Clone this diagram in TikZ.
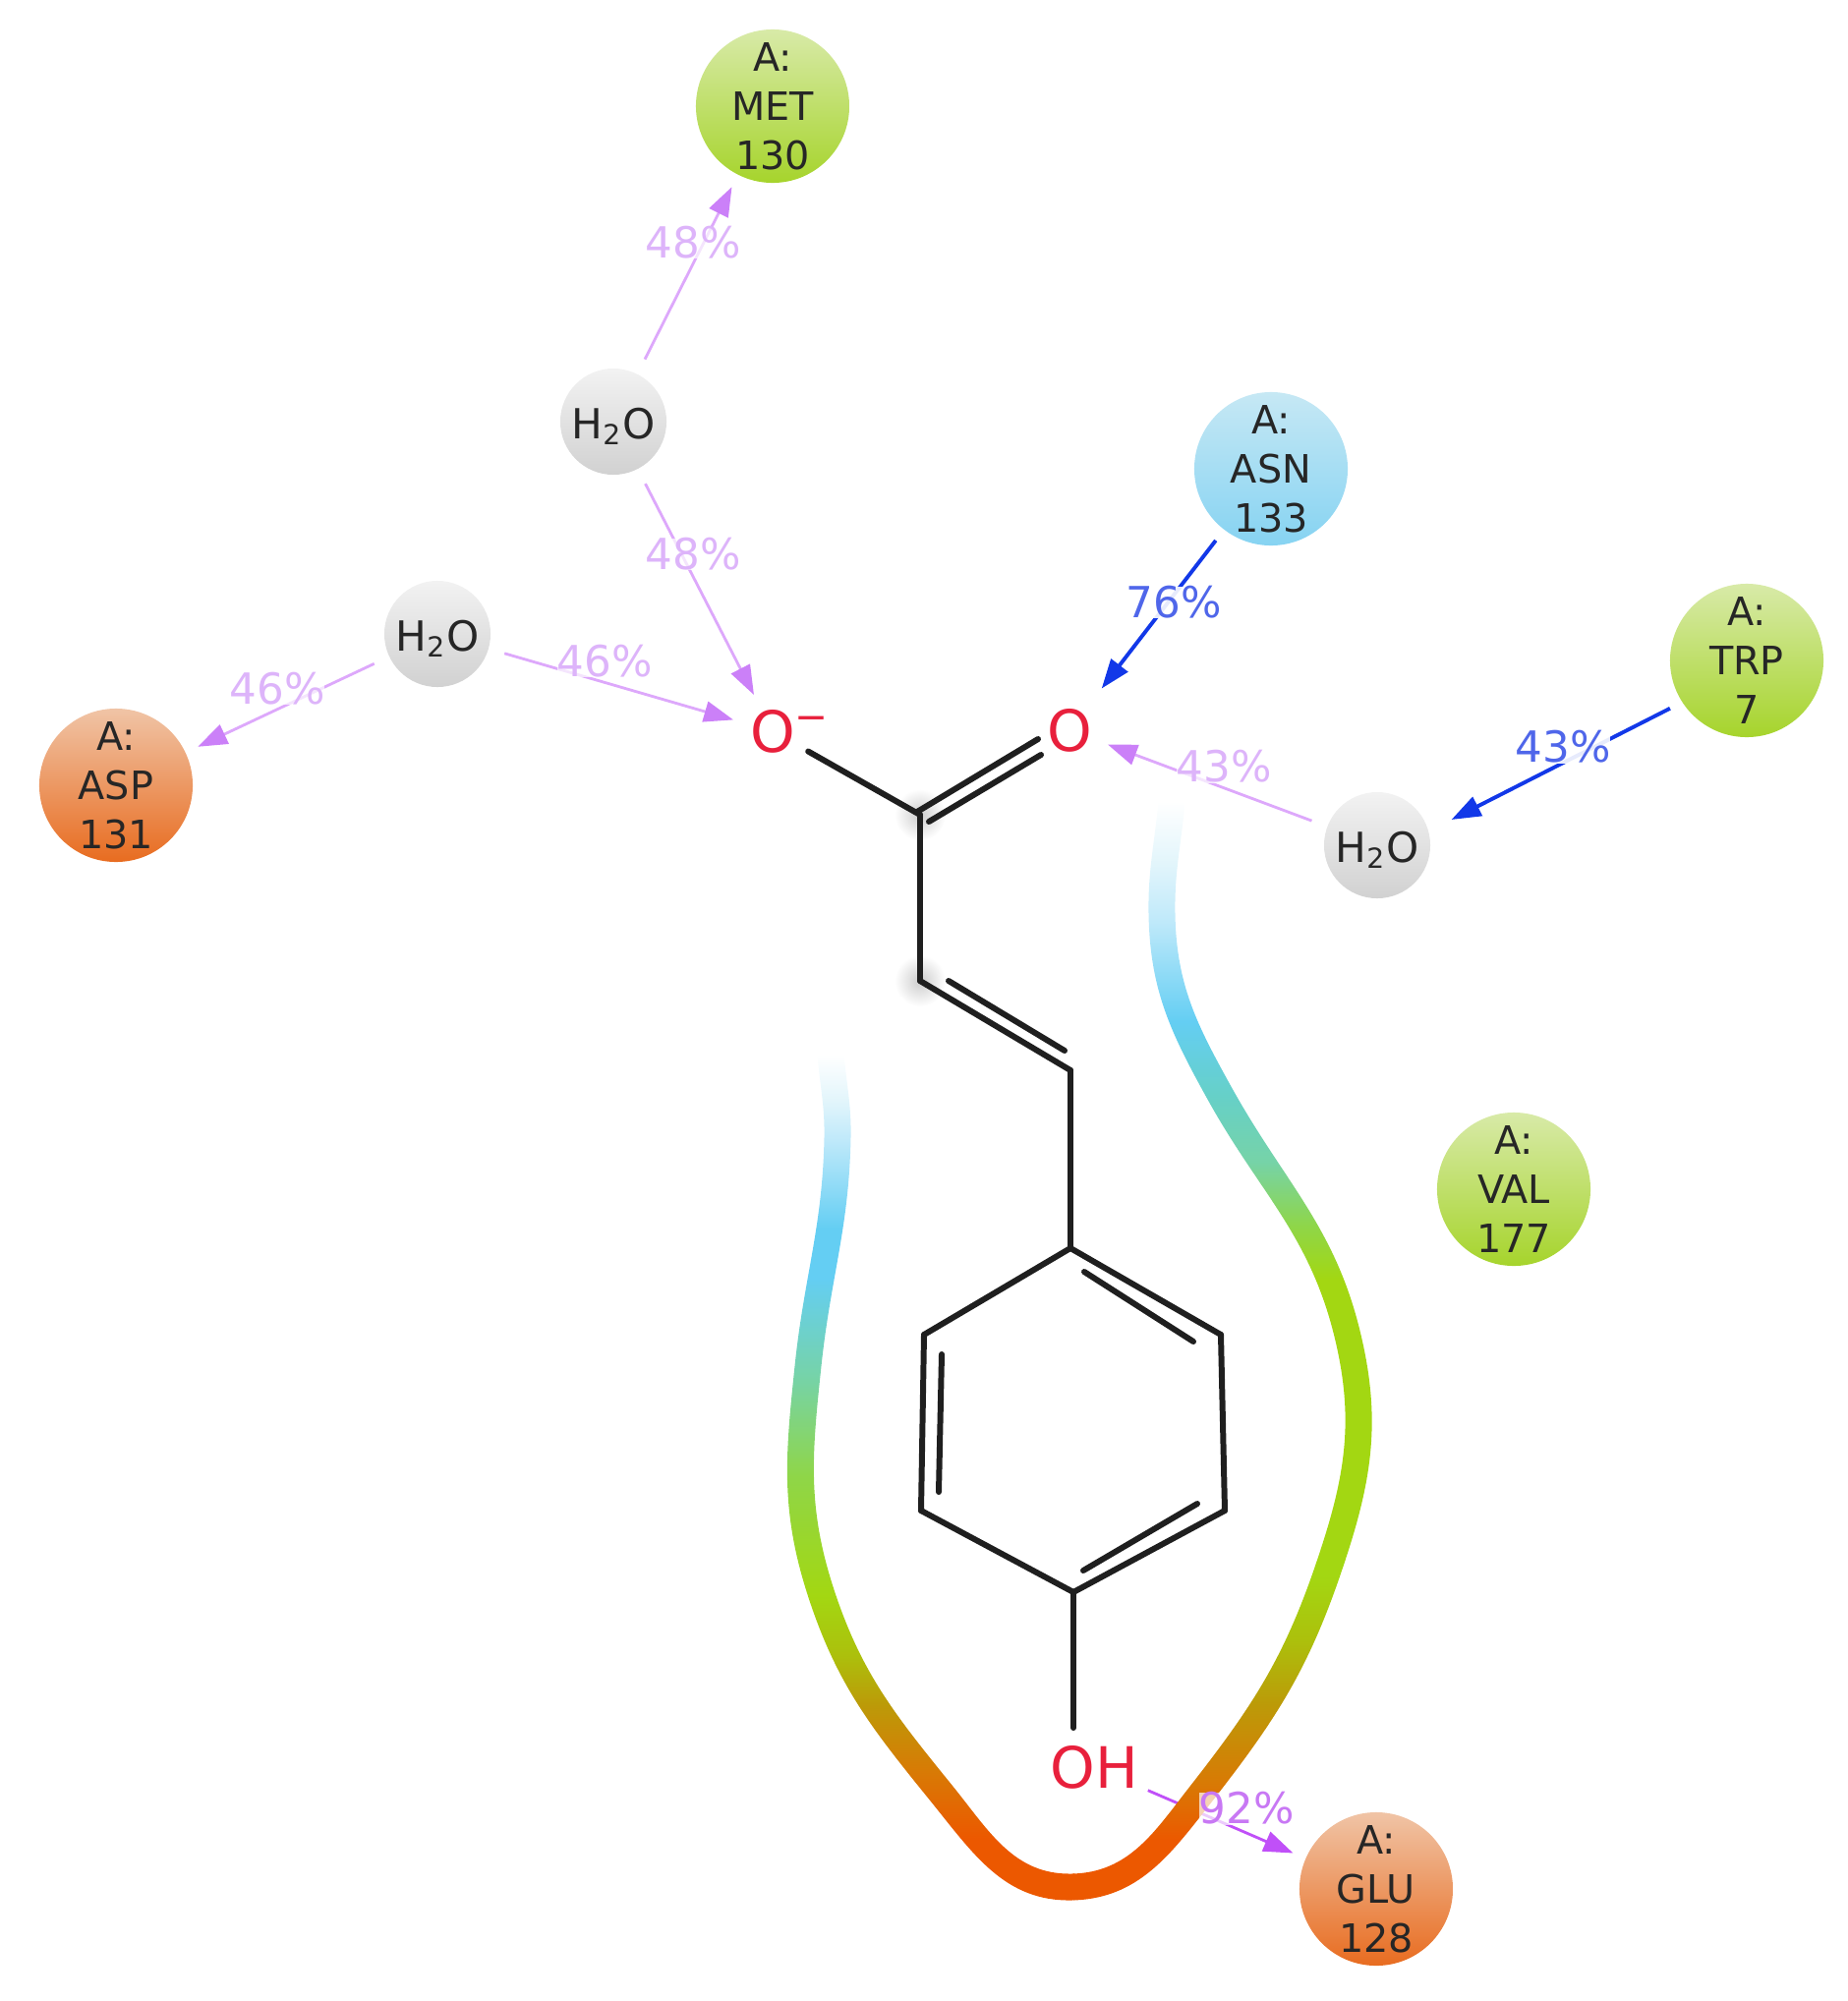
\documentclass[tikz,border=0pt]{standalone}
\usepackage{fontspec}
\setmainfont{DejaVu Sans}
\usetikzlibrary{arrows.meta}

\definecolor{ribwhite}{HTML}{FFFFFF}
\definecolor{ribfaint}{HTML}{E2F5FB}
\definecolor{ribpale}{HTML}{BFE9FA}
\definecolor{ribblue}{HTML}{64CEF3}
\definecolor{ribcyan}{HTML}{66D0C8}
\definecolor{ribteal}{HTML}{76D3A8}
\definecolor{riblime}{HTML}{8FD648}
\definecolor{ribgreen}{HTML}{A3D712}
\definecolor{ribyel}{HTML}{ACC00C}
\definecolor{ribolive}{HTML}{BC9A08}
\definecolor{ribmid}{HTML}{D87A05}
\definecolor{riborange}{HTML}{EC5800}
\definecolor{watertip}{HTML}{CB80F8}
\definecolor{waterline}{HTML}{DDA8FB}
\definecolor{watertext}{HTML}{DDB4FA}
\definecolor{bluetip}{HTML}{1238E8}
\definecolor{bluetext}{HTML}{4F66EA}
\definecolor{sidetip}{HTML}{C050F8}
\definecolor{sidetext}{HTML}{C878F4}
\definecolor{atomred}{HTML}{E8203C}
\definecolor{hydrotop}{HTML}{D8EAA8}
\definecolor{hydrobot}{HTML}{A6D42C}
\definecolor{polartop}{HTML}{C6E8F4}
\definecolor{polarbot}{HTML}{86D3F2}
\definecolor{chargetop}{HTML}{F0C4A6}
\definecolor{chargebot}{HTML}{E86C20}

\pgfdeclareverticalshading{ribbonleft}{100bp}{color(0bp)=(riborange); color(28.8bp)=(riborange); color(32.7bp)=(ribmid); color(36.6bp)=(ribolive); color(39.5bp)=(ribyel); color(43bp)=(ribgreen); color(50bp)=(riblime); color(55.8bp)=(ribteal); color(61.6bp)=(ribblue); color(64.5bp)=(ribblue); color(69.7bp)=(ribpale); color(72bp)=(ribfaint); color(74.7bp)=(ribwhite); color(100bp)=(ribwhite)}
\pgfdeclareverticalshading{ribbonright}{100bp}{color(0bp)=(riborange); color(27.8bp)=(riborange); color(30.4bp)=(ribmid); color(33.9bp)=(ribolive); color(36.8bp)=(ribyel); color(39.7bp)=(ribgreen); color(53bp)=(ribgreen); color(55.4bp)=(riblime); color(58.3bp)=(ribteal); color(61.3bp)=(ribcyan); color(64.6bp)=(ribblue); color(69.1bp)=(ribpale); color(71.7bp)=(ribfaint); color(74.5bp)=(ribwhite); color(100bp)=(ribwhite)}

\tikzset{
  residue/.style={circle, inner sep=0pt, minimum size=1.56cm, outer sep=0.14cm},
  reslabel/.style={align=center, inner sep=0pt, text=black!85, font=\fontsize{11.3}{14.2}\selectfont},
  hydrophobic/.style={residue, top color=hydrotop, bottom color=hydrobot},
  polar/.style={residue, top color=polartop, bottom color=polarbot},
  charged/.style={residue, top color=chargetop, bottom color=chargebot},
  water/.style={circle, inner sep=0pt, minimum size=1.08cm, outer sep=0.17cm, top color=black!5, bottom color=black!18,
    text=black!85, text height=1.15em, text depth=0.17em, font=\fontsize{12}{14}\selectfont},
  atom/.style={circle, inner sep=0pt, minimum size=0.5cm, outer sep=0.1cm, text=atomred, font=\fontsize{16.5}{18}\selectfont},
  bond/.style={line width=1.7pt, black!88, line cap=round},
  hbond/.style={-{Triangle[length=8.5pt,width=6pt]}},
  waterbond/.style={hbond, line width=0.8pt, draw=waterline, -{Triangle[length=8.5pt,width=6pt,color=watertip]}},
  bluebond/.style={hbond, line width=1.1pt, draw=bluetip},
  sidebond/.style={hbond, line width=0.8pt, draw=sidetip},
  pct/.style={inner sep=0pt, fill=white, fill opacity=0.7, text opacity=1, font=\fontsize{12.4}{14}\selectfont},
}

\begin{document}
\begin{tikzpicture}[x=0.01cm, y=-0.01cm]
  \useasboundingbox (0,0) rectangle (1880,2036);

  % skeleton points
  \foreach \name/\x/\y in {c1/936/829, c2/936/998, c3/1089/1089, r1/1089/1270, r2/1242/1358, r3/1246/1537,
      r4/1092/1620, r5/937/1537, r6/940/1358, ohend/1092/1758, dbl1/933/826, dbl2/1056/752, dbl3/945/836,
      dbl4/1059/768, vin1/965/998, vin2/1083/1069, in1/1103/1294, in2/1214/1365, in3/1218/1530, in4/1102/1598,
      in5/955/1518, in6/958/1378}
    \coordinate (\name) at (\x,\y);

  % exposed carbons
  \shade[inner color=black!20, outer color=white] (c1) circle (0.26cm);
  \shade[inner color=black!20, outer color=white] (c2) circle (0.26cm);

  % residues
  \node[hydrophobic, label={[reslabel]center:{A:\\MET\\130}}] (met) at (786,108) {};
  \node[polar, label={[reslabel]center:{A:\\ASN\\133}}] (asn) at (1293,477) {};
  \node[hydrophobic, label={[reslabel]center:{A:\\TRP\\7}}] (trp) at (1777,672) {};
  \node[charged, label={[reslabel]center:{A:\\ASP\\131}}] (asp) at (118,799) {};
  \node[hydrophobic, label={[reslabel]center:{A:\\VAL\\177}}] (val) at (1540,1210) {};
  \node[charged, label={[reslabel]center:{A:\\GLU\\128}}] (glu) at (1400,1922) {};

  % waters
  \node[water] (wattop) at (624,429) {H\textsubscript{2}O};
  \node[water] (watleft) at (445,645) {H\textsubscript{2}O};
  \node[water] (watright) at (1401,860) {H\textsubscript{2}O};

  % ligand atoms
  \node[atom] (oneg) at (786,744) {O\rlap{\textsuperscript{−}}};
  \node[atom] (odbl) at (1088,743) {O};
  \node[atom] (ohyd) at (1113,1798) {OH};

  % bonds
  \foreach \a/\b in {c1/oneg, c1/c2, c2/c3, c3/r1, r1/r2, r2/r3, r3/r4, r4/r5, r5/r6, r6/r1, r4/ohend,
      dbl1/dbl2, dbl3/dbl4, vin1/vin2, in1/in2, in3/in4, in5/in6}
    \draw[bond] (\a) -- (\b);

  % hydrogen bonds
  \foreach \a/\b in {wattop/met, wattop/oneg, watleft/oneg, watleft/asp, watright/odbl}
    \draw[waterbond] (\a) -- (\b);
  \draw[bluebond, shorten >=0.12cm] (asn) -- (odbl);
  \draw[bluebond, shorten >=0.09cm] (trp.212) -- (watright.18);
  \draw[sidebond] (ohyd) -- (glu);

  % pocket ribbon
  \begin{scope}
    \clip (831.5,1074) to[out=-85,in=89] (838.5,1157) to[out=-91,in=84] (808.6,1389)
      to[out=-96,in=108] (822,1624) to[out=-72,in=129] (947,1833) to[out=-51,in=181] (1090,1933.5)
      to[out=1,in=232] (1233,1833) to[out=52,in=251] (1363,1604) to[out=71,in=284] (1383,1352)
      to[out=104,in=299] (1253,1106.5) to[out=119,in=271] (1195.5,930) to[out=91,in=265] (1205.5,816)
      -- (1178.5,814) to[out=265,in=91] (1168.5,930) to[out=271,in=119] (1229,1119.5)
      to[out=299,in=104] (1357,1358) to[out=284,in=71] (1337,1596) to[out=251,in=52] (1211,1817)
      to[out=232,in=1] (1090,1906.5) to[out=181,in=-51] (969,1817) to[out=129,in=-72] (848,1616)
      to[out=108,in=-96] (835.4,1391) to[out=84,in=-91] (865.5,1157) to[out=89,in=-85] (858.5,1072) -- cycle;
    \shade[shading=ribbonleft] (780,1068) rectangle (1093,1936);
    \shade[shading=ribbonright] (1092,804) rectangle (1400,1936);
  \end{scope}

  % occupancy labels
  \node[pct, text=watertext] (pcttop) at (705,247) {48\%};
  \node[pct, text=watertext] (pctmid) at (705,564) {48\%};
  \node[pct, text=watertext] (pctrgt) at (615,673) {46\%};
  \node[pct, text=watertext] (pctlft) at (282,701) {46\%};
  \node[pct, text=watertext] (pctwat) at (1245,780) {43\%};
  \node[pct, text=bluetext, fill opacity=0.9] (pctasn) at (1194,613) {76\%};
  \node[pct, text=bluetext, fill opacity=0.9] (pcttrp) at (1590,760) {43\%};
  \node[pct, text=sidetext] (pctglu) at (1268,1840) {92\%};
\end{tikzpicture}
\end{document}
